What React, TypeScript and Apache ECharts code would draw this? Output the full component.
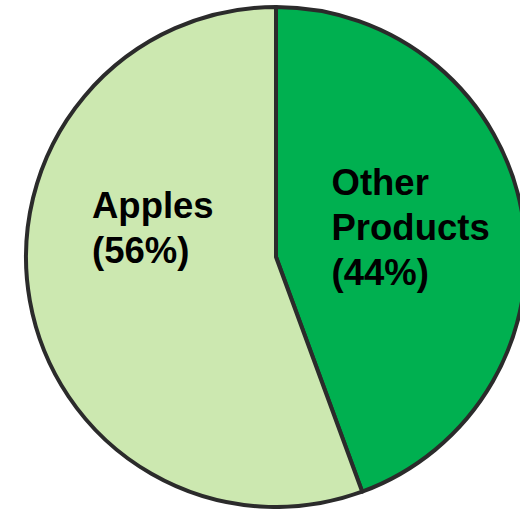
import React, { useEffect, useRef } from "react";
import * as echarts from "echarts";

const categories = ["Other Products", "Apples"];
const values = [44.4, 55.6];
const colors = ["#00b050", "#cce8b0"];

export default function App() {
  const ref = useRef<HTMLDivElement>(null);
  useEffect(() => {
    if (!ref.current) return;
    const chart = echarts.init(ref.current, undefined, { renderer: "svg" });
    const labelCfg = [
      { width: 159, offset: [9, -7.5] },
      { width: 123, offset: [3.5, -51.5] },
    ];
    chart.setOption({
      animation: false,
      backgroundColor: "#ffffff",
      series: [
        {
          type: "pie",
          center: [276, 257],
          radius: 250,
          startAngle: 90,
          clockwise: true,
          avoidLabelOverlap: false,
          itemStyle: { borderColor: "#2b2b2b", borderWidth: 4 },
          emphasis: { disabled: true },
          label: {
            show: true,
            position: "inside",
            formatter: (p: any) => {
              const lines = p.name.split(" ");
              lines.push("(" + Math.round(p.percent) + "%)");
              return lines.map((l: string) => "{t|" + l + "}").join("\n");
            },
          },
          labelLine: { show: false },
          data: categories.map((name, i) => ({
            name,
            value: values[i],
            itemStyle: { color: colors[i] },
            label: {
              offset: labelCfg[i].offset,
              rich: {
                t: {
                  width: labelCfg[i].width,
                  align: "left",
                  fontSize: 36.5,
                  lineHeight: 45,
                  fontWeight: "bold",
                  fontFamily: "Liberation Sans, Arial, sans-serif",
                  color: "#000000",
                },
              },
            },
          })),
        },
      ],
    });
    return () => chart.dispose();
  }, []);
  return (
    <div
      ref={ref}
      style={{ position: "fixed", left: 0, top: 0, width: 520, height: 509 }}
    />
  );
}
